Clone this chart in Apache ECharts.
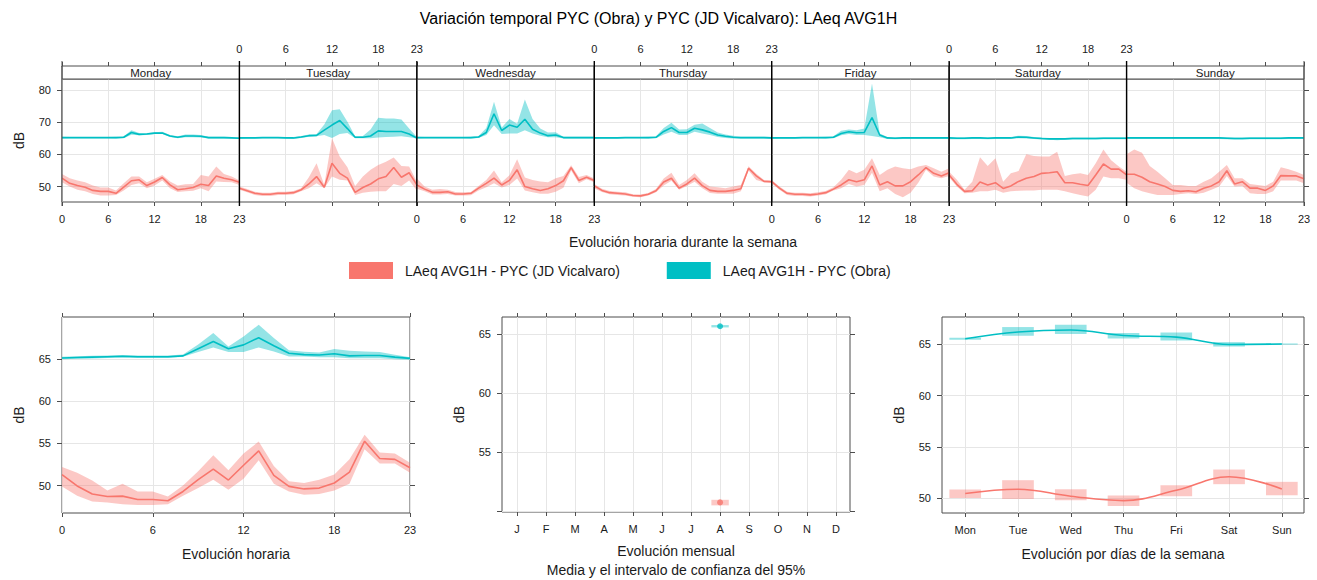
<!DOCTYPE html>
<html>
<head>
<meta charset="utf-8">
<title>Variación temporal PYC</title>
<script src="https://cdn.jsdelivr.net/npm/echarts@6/dist/echarts.min.js"></script>
<style>
  html, body { margin: 0; padding: 0; background: #fff; }
  #chart { width: 1317px; height: 580px; }
</style>
</head>
<body>
<div id="chart"></div>
<script>
// ---- data ----
var hours = [0,1,2,3,4,5,6,7,8,9,10,11,12,13,14,15,16,17,18,19,20,21,22,23];
var hourTicks = [0, 6, 12, 18, 23];
var dayNames = ['Monday','Tuesday','Wednesday','Thursday','Friday','Saturday','Sunday'];
var dayAbbr = ['Mon','Tue','Wed','Thu','Fri','Sat','Sun'];
var dayIdx = [0,1,2,3,4,5,6];
var monthLetters = ['J','F','M','A','M','J','J','A','S','O','N','D'];
var monthIdx = [1,2,3,4,5,6,7,8,9,10,11,12];

var JD_NAME = 'LAeq AVG1H - PYC (JD Vicalvaro)';
var OBRA_NAME = 'LAeq AVG1H - PYC (Obra)';

// hour x weekday (one row per day, Monday first)
var obraWeekMean = [
  [65.2,65.2,65.2,65.2,65.2,65.2,65.2,65.2,65.3,66.8,66.2,66.3,66.6,66.6,65.7,65.3,65.7,65.7,65.6,65.2,65.2,65.2,65.1,65.0],
  [65.1,65.1,65.1,65.2,65.2,65.2,65.1,65.1,65.4,65.8,65.9,67.5,69.1,70.5,68.0,65.3,65.3,65.7,67.3,67.1,67.1,67.1,66.3,65.1],
  [65.2,65.2,65.2,65.2,65.2,65.2,65.2,65.2,65.4,66.8,72.6,67.4,69.1,68.4,70.9,67.8,66.6,65.8,66.0,65.2,65.2,65.2,65.2,65.2],
  [65.1,65.1,65.1,65.1,65.2,65.2,65.2,65.2,65.3,67.1,68.3,66.8,66.8,68.1,67.6,66.9,66.0,65.6,65.3,65.2,65.2,65.2,65.2,65.1],
  [65.1,65.1,65.1,65.1,65.2,65.2,65.2,65.2,65.3,66.5,67.0,66.7,66.8,71.4,66.0,65.1,65.0,65.1,65.1,65.1,65.1,65.1,65.1,65.1],
  [65.1,65.0,65.0,65.1,65.1,65.0,65.1,65.1,65.1,65.4,65.3,65.1,64.9,64.8,64.8,64.8,64.9,64.9,64.9,64.9,65.0,65.0,65.0,65.0],
  [65.1,65.1,65.1,65.1,65.1,65.1,65.1,65.1,65.1,65.1,65.1,65.1,65.1,65.0,64.9,64.9,65.0,65.0,65.0,65.0,65.0,65.1,65.1,65.1]
];
var obraWeekLow = [
  [64.9,65.0,65.0,65.0,65.0,65.0,65.0,64.9,65.0,66.1,65.9,66.0,66.3,66.3,65.4,65.0,65.3,65.3,65.2,64.9,64.9,64.9,64.9,64.8],
  [64.8,64.9,64.9,65.0,65.0,65.0,64.9,64.8,65.1,65.5,65.6,66.0,65.1,66.3,66.6,65.0,65.0,65.0,65.2,65.4,65.5,65.6,65.3,64.9],
  [64.9,65.0,65.0,65.0,65.0,65.0,65.0,64.9,65.1,66.0,69.0,66.3,66.5,66.5,67.5,66.5,65.8,65.3,65.3,64.9,64.9,64.9,64.9,64.9],
  [64.8,64.9,64.9,64.9,65.0,65.0,65.0,64.9,65.0,66.2,67.0,66.0,66.0,67.0,66.5,66.0,65.4,65.1,64.9,64.9,64.9,64.9,64.9,64.8],
  [64.8,64.9,64.9,64.9,65.0,65.0,65.0,64.9,65.0,65.9,66.3,66.0,66.0,65.7,65.3,64.8,64.7,64.8,64.8,64.8,64.8,64.8,64.8,64.8],
  [64.7,64.7,64.7,64.8,64.8,64.7,64.8,64.8,64.8,65.0,64.9,64.8,64.6,64.5,64.4,64.5,64.6,64.6,64.6,64.6,64.7,64.7,64.7,64.7],
  [64.8,64.8,64.8,64.8,64.8,64.8,64.8,64.8,64.8,64.8,64.8,64.8,64.8,64.7,64.6,64.6,64.7,64.7,64.7,64.7,64.7,64.8,64.8,64.8]
];
var obraWeekHigh = [
  [65.5,65.4,65.4,65.4,65.4,65.4,65.4,65.5,65.6,67.5,66.6,66.6,66.9,67.0,66.0,65.6,66.2,66.2,66.0,65.5,65.5,65.5,65.4,65.3],
  [65.4,65.3,65.3,65.4,65.4,65.4,65.3,65.4,65.7,66.2,66.3,69.3,73.7,74.0,70.1,65.6,65.7,67.7,71.4,71.1,71.1,70.8,68.0,65.4],
  [65.5,65.4,65.4,65.4,65.4,65.4,65.4,65.5,65.7,68.2,76.3,68.3,71.0,69.5,77.0,71.0,68.0,66.8,66.9,65.5,65.5,65.5,65.5,65.5],
  [65.4,65.3,65.3,65.3,65.4,65.4,65.4,65.5,65.6,68.2,69.8,67.7,67.8,69.2,69.6,68.2,66.8,66.2,65.8,65.5,65.5,65.5,65.5,65.4],
  [65.4,65.3,65.3,65.3,65.4,65.4,65.4,65.5,65.6,67.3,67.7,67.5,68.0,82.0,66.5,65.4,65.3,65.4,65.4,65.4,65.4,65.4,65.4,65.4],
  [65.4,65.3,65.3,65.4,65.4,65.3,65.4,65.4,65.4,65.8,65.7,65.4,65.2,65.1,65.1,65.1,65.2,65.2,65.2,65.2,65.3,65.3,65.3,65.3],
  [65.4,65.4,65.4,65.4,65.4,65.4,65.4,65.4,65.4,65.4,65.4,65.4,65.4,65.3,65.2,65.2,65.3,65.3,65.3,65.3,65.3,65.4,65.4,65.4]
];

var jdWeekMean = [
  [52.6,51.0,50.3,49.8,48.8,48.5,48.5,47.9,49.8,51.8,52.1,50.3,51.4,52.8,50.5,49.0,49.3,49.7,50.7,50.3,53.3,52.6,52.1,51.3],
  [49.5,48.7,47.9,47.6,47.6,47.9,47.9,48.1,49.0,50.8,53.1,49.8,57.2,54.1,52.6,48.2,49.7,50.8,52.4,53.1,55.9,52.9,54.3,50.5],
  [50.5,49.2,48.2,48.2,48.4,47.7,47.7,47.9,49.5,51.0,52.6,50.5,51.9,55.2,50.0,49.3,48.8,49.3,50.3,51.8,55.9,51.9,52.9,51.9],
  [50.2,48.8,48.1,47.9,47.7,47.2,47.1,47.6,48.7,51.4,52.6,49.5,50.8,52.6,50.3,48.8,48.5,48.5,48.8,49.3,55.7,53.3,51.6,51.5],
  [51.5,49.5,47.9,47.6,47.6,47.4,47.7,48.1,49.2,50.5,52.1,51.5,52.1,56.4,50.5,51.5,50.2,50.2,51.5,53.6,55.9,54.1,53.3,54.3],
  [53.6,50.7,48.5,48.7,51.4,50.5,51.2,49.4,50.2,51.6,52.6,53.1,54.1,54.3,54.6,51.2,51.2,50.7,50.3,53.6,57.0,55.4,55.4,53.6],
  [53.8,53.8,52.9,51.5,50.8,50.0,48.8,48.5,48.7,48.4,49.5,50.2,51.5,54.9,50.8,51.5,49.5,49.5,48.8,50.2,53.4,53.3,53.3,52.4]
];
var jdWeekLow = [
  [51.3,50.0,49.0,48.5,47.7,47.2,47.2,47.4,48.8,50.5,51.0,49.5,50.3,51.9,49.5,48.3,48.5,48.7,49.5,48.5,51.6,51.4,51.3,50.5],
  [49.0,48.2,47.4,47.1,47.1,47.4,47.4,47.6,48.5,49.5,51.0,49.5,53.1,52.1,51.9,47.4,48.1,48.4,48.5,48.5,50.8,50.2,51.9,48.8],
  [49.3,48.5,47.5,47.5,47.7,47.2,47.2,47.3,48.8,49.8,51.0,49.7,50.5,52.5,48.8,48.2,47.8,47.8,48.4,49.6,55.0,51.0,52.3,51.3],
  [49.5,48.3,47.6,47.4,47.2,46.8,46.7,47.2,48.2,50.3,51.8,49.0,50.2,51.5,49.5,48.0,47.8,47.8,47.8,48.5,55.0,52.0,51.3,51.1],
  [51.0,49.0,47.4,47.1,47.1,46.9,47.2,47.6,48.8,49.5,50.8,50.0,50.5,54.3,48.5,49.5,47.7,46.7,48.1,51.2,55.2,53.1,52.6,53.3],
  [52.9,50.0,47.9,48.1,48.5,48.5,49.0,48.1,48.5,48.7,48.8,48.8,49.0,49.0,49.0,48.5,47.9,47.4,46.9,49.0,53.1,52.6,52.6,52.1],
  [51.2,49.5,48.5,47.9,47.4,47.4,47.4,47.7,47.9,47.7,48.1,49.0,50.0,53.3,50.0,50.2,47.9,47.7,47.7,48.5,51.9,51.9,51.9,51.0]
];
var jdWeekHigh = [
  [53.9,52.6,51.9,51.3,50.3,49.7,49.7,48.8,51.0,53.1,53.1,51.3,52.4,53.6,51.6,50.3,50.7,50.8,53.6,53.1,56.2,53.9,53.1,51.9],
  [50.0,49.2,48.4,48.1,48.1,48.4,48.4,48.6,49.5,52.9,57.2,50.5,65.0,59.3,56.0,50.2,53.1,55.2,56.7,57.7,59.0,56.4,56.2,51.5],
  [52.5,50.0,49.0,49.2,49.0,48.3,48.2,48.3,50.2,52.0,55.0,51.3,53.5,58.5,52.8,52.0,51.6,51.3,52.6,53.3,56.6,53.0,53.6,52.5],
  [50.8,49.3,48.6,48.4,48.2,47.6,47.5,48.0,49.2,52.5,54.3,50.5,52.0,54.1,51.5,50.0,49.8,49.5,50.0,50.5,56.3,54.0,52.0,51.9],
  [52.0,50.0,48.4,48.1,48.1,47.9,48.2,48.6,49.8,52.1,55.2,54.1,55.2,58.8,53.6,55.2,56.2,55.7,55.4,56.2,56.7,55.7,54.6,55.7],
  [54.6,52.1,49.0,51.5,59.1,56.4,58.8,51.5,54.1,54.8,60.0,59.5,59.3,59.3,60.8,53.3,53.8,54.1,53.6,57.2,61.5,58.2,56.2,54.6],
  [60.0,61.5,60.5,56.4,54.6,52.6,50.5,50.5,50.2,50.2,51.5,52.6,54.6,56.7,52.6,52.6,50.8,50.5,50.2,51.5,56.0,55.4,54.6,53.6]
];

// hourly (all days)
var obraHourMean = [65.1,65.15,65.2,65.25,65.3,65.25,65.25,65.25,65.35,66.2,67.05,66.2,66.65,67.5,66.55,65.65,65.5,65.45,65.6,65.35,65.4,65.4,65.2,65.05];
var obraHourLow  = [64.95,65.0,65.05,65.1,65.15,65.1,65.1,65.1,65.25,65.8,66.35,65.8,65.8,66.35,65.87,65.28,65.28,65.2,65.2,65.08,65.08,65.08,64.96,64.88];
var obraHourHigh = [65.25,65.3,65.35,65.4,65.45,65.4,65.4,65.4,65.5,66.7,68.05,66.46,67.65,69.03,67.45,66.0,65.83,65.75,66.15,65.95,65.87,65.8,65.47,65.2];
var jdHourMean = [51.3,49.95,49.0,48.7,48.75,48.35,48.35,48.2,49.3,50.7,51.95,50.65,52.4,54.1,51.2,49.9,49.6,49.7,50.3,51.6,55.25,53.2,53.1,52.1];
var jdHourLow  = [49.9,48.8,48.1,48.0,47.8,47.7,47.7,47.8,48.8,49.7,50.7,49.5,50.8,53.0,50.2,49.3,48.9,49.0,49.4,50.2,54.3,52.6,52.6,51.5];
var jdHourHigh = [52.2,51.5,50.6,49.4,50.2,49.3,49.3,48.7,50.0,51.7,53.6,51.8,53.8,55.2,52.3,50.5,50.3,50.7,51.3,53.1,56.0,53.9,53.8,52.7];

// monthly (only August has data)
var monthWithData = [8];
var obraMonthMean = [65.65], obraMonthLow = [65.55], obraMonthHigh = [65.75];
var jdMonthMean = [50.78], jdMonthLow = [50.53], jdMonthHigh = [51.0];

// day of week
var obraDayMean = [65.56,66.21,66.41,65.88,65.72,65.0,65.04];
var obraDayLow  = [65.45,65.85,66.02,65.59,65.39,64.80,64.98];
var obraDayHigh = [65.65,66.70,66.93,66.11,66.17,65.23,65.10];
var jdDayMean = [50.46,50.88,50.2,49.77,50.78,52.09,50.91];
var jdDayLow  = [50.03,49.93,49.8,49.25,50.2,51.37,50.29];
var jdDayHigh = [50.85,51.76,50.88,50.26,51.27,52.8,51.6];

// ---- styling ----
var RED = '#F8766D', CYAN = '#00BFC4';
var RED_BAND = 'rgba(248,118,109,0.4)', CYAN_BAND = 'rgba(0,191,196,0.42)';
var FONT = 'Liberation Sans';
var TXT = '#1a1a1a', FRAME = '#4d4d4d', GRIDC = '#e6e6e6';

var chart = echarts.init(document.getElementById('chart'), null, {renderer: 'svg'});

var grids = [], xAxes = [], yAxes = [], series = [], graphics = [];

function makeGrid(left, top, width, height) {
  return {left: left, top: top, width: width, height: height, show: true,
          borderColor: FRAME, borderWidth: 1, backgroundColor: 'transparent'};
}

function valAxis(gi, pos, min, max, ticks, labels, fmt, split) {
  var ax = {
    gridIndex: gi, type: 'value', position: pos, min: min, max: max,
    axisLine: {show: false, onZero: false},
    axisTick: {show: true, length: 4, customValues: ticks, lineStyle: {color: FRAME}},
    axisLabel: {show: !!labels, customValues: labels || ticks, fontSize: 11, color: TXT,
                fontFamily: FONT, margin: 11},
    splitLine: {show: !!split, lineStyle: {color: GRIDC, width: 1}}
  };
  if (fmt) ax.axisLabel.formatter = fmt;
  return ax;
}

function band(xi, yi, xs, lo, hi, color) {
  return {
    type: 'custom', xAxisIndex: xi, yAxisIndex: yi, silent: true, clip: true, z: 1,
    data: xs.map(function (x, i) { return [x, lo[i], hi[i]]; }),
    encode: {x: 0, y: [1, 2]},
    renderItem: function (params, api) {
      if (params.dataIndex !== 0) return;
      var pts = [], i;
      for (i = 0; i < xs.length; i++) pts.push(api.coord([xs[i], hi[i]]));
      for (i = xs.length - 1; i >= 0; i--) pts.push(api.coord([xs[i], lo[i]]));
      return {type: 'polygon', shape: {points: pts}, style: {fill: color, stroke: null}};
    }
  };
}

function meanLine(name, xi, yi, xs, ys, color, smooth) {
  return {
    name: name, type: 'line', xAxisIndex: xi, yAxisIndex: yi, silent: true, z: 3,
    data: xs.map(function (x, i) { return [x, ys[i]]; }),
    symbol: 'none', smooth: smooth || false,
    lineStyle: {color: color, width: 1.6}, itemStyle: {color: color}
  };
}

function ciRects(xi, yi, xs, lo, hi, halfW, color) {
  return {
    type: 'custom', xAxisIndex: xi, yAxisIndex: yi, silent: true, z: 1,
    data: xs.map(function (x, i) { return [x, lo[i], hi[i]]; }),
    encode: {x: 0, y: [1, 2]},
    renderItem: function (params, api) {
      var a = api.coord([api.value(0) - halfW, api.value(2)]);
      var b = api.coord([api.value(0) + halfW, api.value(1)]);
      return {type: 'rect', shape: {x: a[0], y: a[1], width: b[0] - a[0], height: b[1] - a[1]},
              style: {fill: color}};
    }
  };
}

// ---- top panel: hour of day for each weekday ----
var dayLeft = 62, dayRight = 1304, dayW = (dayRight - dayLeft) / 7;
var topY = 79, topH = 123, stripH = 13;
var weekYTicks = [50, 60, 70, 80];

for (var d = 0; d < 7; d++) {
  var gx = dayLeft + d * dayW;
  grids.push(makeGrid(gx, topY, dayW, topH));

  var xb = valAxis(d, 'bottom', 0, 23, hourTicks, d % 2 === 0 ? hourTicks : null, null, true);
  var xt = valAxis(d, 'top', 0, 23, hourTicks, d % 2 === 1 ? hourTicks : null, null, false);
  xt.offset = stripH;
  xt.axisLine = {show: true, onZero: false, lineStyle: {color: FRAME}};
  xt.axisLabel.margin = 12;
  xAxes.push(xb, xt);

  var ya = valAxis(d, 'left', 45.2, 83.4, weekYTicks, d === 0 ? weekYTicks : null, null, true);
  ya.axisTick.show = d === 0;
  ya.axisTick.length = 5;
  if (d === 0) {
    ya.name = 'dB'; ya.nameLocation = 'middle'; ya.nameGap = 36;
    ya.nameTextStyle = {fontSize: 14, color: TXT, fontFamily: FONT};
  }
  yAxes.push(ya);

  series.push(band(2 * d, d, hours, jdWeekLow[d], jdWeekHigh[d], RED_BAND));
  series.push(band(2 * d, d, hours, obraWeekLow[d], obraWeekHigh[d], CYAN_BAND));
  series.push(meanLine(JD_NAME, 2 * d, d, hours, jdWeekMean[d], RED));
  series.push(meanLine(OBRA_NAME, 2 * d, d, hours, obraWeekMean[d], CYAN));

  graphics.push({
    type: 'rect', silent: true, z: 5,
    shape: {x: gx, y: topY - stripH, width: dayW, height: stripH},
    style: {fill: '#fff', stroke: FRAME, lineWidth: 1}
  });
  graphics.push({
    type: 'text', silent: true, z: 6,
    style: {text: dayNames[d], x: gx + dayW / 2, y: topY - stripH / 2 + 0.5, textAlign: 'center',
            textVerticalAlign: 'middle', fontSize: 11.5, fontFamily: FONT, fill: TXT}
  });
}
// right-hand ticks on the Sunday panel
var yr = valAxis(6, 'right', 45.2, 83.4, weekYTicks, null, null, false);
yr.axisTick.length = 5;
yAxes.push(yr);

// day separators
for (var s = 0; s <= 7; s++) {
  graphics.push({
    type: 'line', silent: true, z: 7,
    shape: {x1: dayLeft + s * dayW, y1: 61, x2: dayLeft + s * dayW, y2: topY + topH + 4},
    style: {stroke: s === 0 || s === 7 ? FRAME : '#000', lineWidth: s === 0 || s === 7 ? 1 : 1.4}
  });
}
graphics.push({
  type: 'text', silent: true,
  style: {text: 'Evolución horaria durante la semana', x: (dayLeft + dayRight) / 2, y: 242,
          textAlign: 'center', textVerticalAlign: 'middle', fontSize: 14, fontFamily: FONT, fill: TXT}
});

// ---- bottom panels ----
function bottomPanel(gi, left, width, xmin, xmax, xticks, xfmt, ymin, ymax, yticks, ylabels, xname, nameGap) {
  grids.push(makeGrid(left, 317, width, 196));
  var xi = xAxes.length, yi = yAxes.length;
  var xb = valAxis(gi, 'bottom', xmin, xmax, xticks, xticks, xfmt, true);
  xb.name = xname; xb.nameLocation = 'middle'; xb.nameGap = nameGap;
  xb.nameTextStyle = {fontSize: 14, color: TXT, fontFamily: FONT, lineHeight: 19};
  var xt = valAxis(gi, 'top', xmin, xmax, xticks, null, null, false);
  xAxes.push(xb, xt);
  var yl = valAxis(gi, 'left', ymin, ymax, yticks, ylabels, null, true);
  yl.axisTick.length = 5;
  yl.name = 'dB'; yl.nameLocation = 'middle'; yl.nameGap = 36;
  yl.nameTextStyle = {fontSize: 14, color: TXT, fontFamily: FONT};
  var yrr = valAxis(gi, 'right', ymin, ymax, yticks, null, null, false);
  yrr.axisTick.length = 5;
  yAxes.push(yl, yrr);
  return [xi, yi];
}

// hour of day
var p1 = bottomPanel(7, 62, 348, 0, 23, hourTicks, null, 46.75, 69.95, [50, 55, 60, 65], [50, 55, 60, 65],
                     'Evolución horaria', 31);
series.push(band(p1[0], p1[1], hours, jdHourLow, jdHourHigh, RED_BAND));
series.push(band(p1[0], p1[1], hours, obraHourLow, obraHourHigh, CYAN_BAND));
series.push(meanLine(JD_NAME, p1[0], p1[1], hours, jdHourMean, RED));
series.push(meanLine(OBRA_NAME, p1[0], p1[1], hours, obraHourMean, CYAN));

// month
var p2 = bottomPanel(8, 502, 348, 0.48, 12.48, monthIdx, function (v) { return monthLetters[v - 1]; },
                     49.97, 66.43, [50, 55, 60, 65], [55, 60, 65],
                     'Evolución mensual\nMedia y el intervalo de confianza del 95%', 29);
series.push(ciRects(p2[0], p2[1], monthWithData, jdMonthLow, jdMonthHigh, 0.3, RED_BAND));
series.push(ciRects(p2[0], p2[1], monthWithData, obraMonthLow, obraMonthHigh, 0.3, CYAN_BAND));
series.push({type: 'scatter', xAxisIndex: p2[0], yAxisIndex: p2[1], silent: true, z: 3, symbolSize: 6,
             itemStyle: {color: RED}, data: monthWithData.map(function (m, i) { return [m, jdMonthMean[i]]; })});
series.push({type: 'scatter', xAxisIndex: p2[0], yAxisIndex: p2[1], silent: true, z: 3, symbolSize: 6,
             itemStyle: {color: CYAN}, data: monthWithData.map(function (m, i) { return [m, obraMonthMean[i]]; })});

// day of week
var p3 = bottomPanel(9, 942, 362, -0.44, 6.42, dayIdx, function (v) { return dayAbbr[v]; },
                     48.56, 67.68, [50, 55, 60, 65], [50, 55, 60, 65],
                     'Evolución por días de la semana', 31);
series.push(ciRects(p3[0], p3[1], dayIdx, jdDayLow, jdDayHigh, 0.3, RED_BAND));
series.push(ciRects(p3[0], p3[1], dayIdx, obraDayLow, obraDayHigh, 0.3, CYAN_BAND));
series.push(meanLine(JD_NAME, p3[0], p3[1], dayIdx, jdDayMean, RED, 0.4));
series.push(meanLine(OBRA_NAME, p3[0], p3[1], dayIdx, obraDayMean, CYAN, 0.4));

var option = {
  animation: false,
  backgroundColor: '#fff',
  textStyle: {fontFamily: FONT},
  title: {
    text: 'Variación temporal PYC (Obra) y PYC (JD Vicalvaro): LAeq AVG1H',
    left: 'center', top: 5,
    textStyle: {fontSize: 16, fontWeight: 'normal', color: '#000', fontFamily: FONT}
  },
  legend: {
    data: [JD_NAME, OBRA_NAME], left: 349, top: 262, icon: 'rect',
    itemWidth: 44, itemHeight: 17, itemGap: 46, selectedMode: false, padding: 0,
    textStyle: {fontSize: 14, color: TXT, fontFamily: FONT, padding: [0, 0, 0, 7]}
  },
  grid: grids,
  xAxis: xAxes,
  yAxis: yAxes,
  series: series,
  graphic: graphics
};
chart.setOption(option);
</script>
</body>
</html>
